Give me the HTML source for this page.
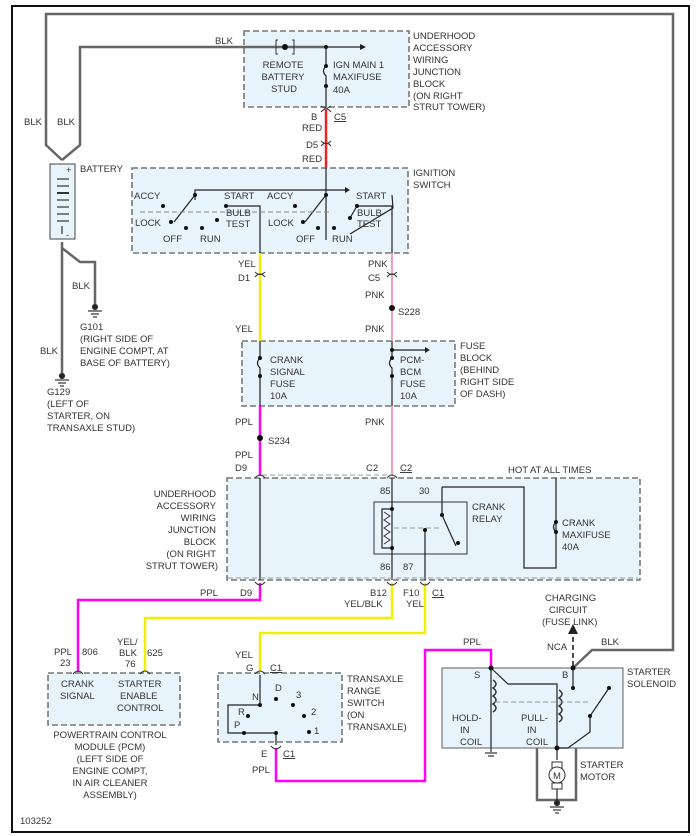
<!DOCTYPE html>
<html><head><meta charset="utf-8"><style>
html,body{margin:0;padding:0;background:#fff}
svg{display:block}
text{font-family:"Liberation Sans",sans-serif;font-size:9.5px;fill:#333}
.bx{fill:#e8f4fc;stroke:#777;stroke-width:1.6;stroke-dasharray:6,3}
.k{stroke:#222;stroke-width:1.2;fill:none}
.g{stroke:#666;stroke-width:2.5;fill:none}
.y{stroke:#f0f000;stroke-width:2.5;fill:none}
.p{stroke:#f4a0b8;stroke-width:2;fill:none}
.m{stroke:#ff00ff;stroke-width:2.5;fill:none}
.r{stroke:#ee2222;stroke-width:2.5;fill:none}
</style></head><body>
<svg width="700" height="836" viewBox="0 0 700 836">
<rect x="12" y="6" width="677" height="826" fill="#fff" stroke="#111" stroke-width="2"/>
<rect class="bx" x="244" y="31" width="165" height="76"/>
<rect class="bx" x="132" y="168" width="276" height="85"/>
<rect class="bx" x="242" y="341" width="213" height="65"/>
<rect class="bx" x="227" y="478" width="413" height="102"/>
<rect class="bx" x="48" y="673" width="132" height="52"/>
<rect class="bx" x="218" y="673" width="124" height="69"/>
<rect x="442" y="668" width="181" height="80" fill="#e8f4fc" stroke="#777" stroke-width="1.2"/>
<path class="g" d="M62,160 L46,145 L46,14 L673,14 L673,650 L592,650 L573,668"/>
<path class="g" d="M62,160 L80,145 L80,47 L326,47"/>
<path class="g" d="M62,242 L62,375"/>
<path class="g" d="M62,248 L80,262 L95,262 L95,305"/>
<path class="g" d="M537,748 L537,800 L576,800 L576,748"/>
<rect x="50" y="164" width="25" height="75" fill="#e8f4fc" stroke="#444"/>
<g stroke="#333" stroke-width="1.2"><line x1="57" y1="179" x2="69" y2="179"/><line x1="57" y1="186" x2="69" y2="186"/><line x1="57" y1="193" x2="69" y2="193" stroke-width="2"/><line x1="57" y1="200" x2="69" y2="200"/><line x1="57" y1="207" x2="69" y2="207"/><line x1="57" y1="214" x2="69" y2="214"/><line x1="57" y1="221" x2="69" y2="221"/><line x1="62" y1="226" x2="62" y2="234"/></g>
<text x="66" y="173" font-size="8">+</text><text x="66" y="238" font-size="7">-</text>
<g stroke="#333" stroke-width="1.2"><circle cx="95" cy="307" r="2.5" fill="#222"/><line x1="88" y1="311" x2="102" y2="311"/><line x1="91" y1="314" x2="99" y2="314"/><line x1="93" y1="317" x2="97" y2="317"/>
<circle cx="62" cy="376" r="2.5" fill="#222"/><line x1="55" y1="380" x2="69" y2="380"/><line x1="58" y1="383" x2="66" y2="383"/><line x1="60" y1="386" x2="64" y2="386"/>
<line x1="491" y1="748" x2="491" y2="752"/><line x1="485" y1="753" x2="497" y2="753"/><line x1="488" y1="756" x2="494" y2="756"/>
<circle cx="557" cy="803" r="2.5" fill="#222"/><line x1="550" y1="807" x2="564" y2="807"/><line x1="553" y1="810" x2="561" y2="810"/><line x1="555" y1="813" x2="559" y2="813"/></g>
<circle cx="285" cy="47" r="3" fill="#111"/><path d="M278,40h-2v14h2 M292,40h2v14h-2" stroke="#333" fill="none"/>
<path class="k" d="M326,47 L360,47"/><path d="M360,44 L366,47 L360,50Z" fill="#222"/>
<circle cx="326" cy="47" r="2" fill="#111"/>
<path class="k" d="M326,47 V66 q-5,5 0,10 V108"/><circle cx="326" cy="66" r="2" fill="#111"/><circle cx="326" cy="86" r="2" fill="#111"/>
<path class="r" d="M326,110 V168"/>
<path class="k" d="M326,168 V240 M195,200 V190 H326 M326,190 H345"/><path d="M345,187 L350,190 L345,193Z" fill="#222"/>
<path class="k" d="M195,195 L174,222 M326,195 L305,222 M357,206 L350,218 M392,195 L393,208 L350,234 M226,206 H260 V253 M357,206 H392 V253"/>
<path d="M140,212 H330" stroke="#888" stroke-dasharray="5,3"/>
<g fill="#111"><circle cx="195" cy="195" r="2"/><circle cx="163" cy="206" r="2"/><circle cx="171" cy="222" r="2"/><circle cx="186" cy="228" r="2"/><circle cx="202" cy="228" r="2"/><circle cx="217" cy="220" r="2"/><circle cx="226" cy="206" r="2"/>
<circle cx="326" cy="195" r="2"/><circle cx="295" cy="206" r="2"/><circle cx="303" cy="222" r="2"/><circle cx="318" cy="228" r="2"/><circle cx="334" cy="228" r="2"/><circle cx="350" cy="218" r="2"/><circle cx="357" cy="206" r="2"/></g>
<path class="y" d="M260,253 V341"/><path class="k" d="M260,341 V358 q-5,5 0,10 V406"/><circle cx="260" cy="358" r="2" fill="#111"/><circle cx="260" cy="376" r="2" fill="#111"/>
<path class="m" d="M260,406 V476"/><circle cx="260" cy="438" r="3" fill="#111"/>
<path class="k" d="M260,478 V580"/><path class="m" d="M260,583 V600 H78 V672"/>
<path class="p" d="M392,253 V341"/><circle cx="392" cy="308" r="3" fill="#111"/>
<path class="k" d="M392,341 V358 q-5,5 0,10 V406 M392,350 H425"/><path d="M425,347 L430,350 L425,353Z" fill="#222"/><circle cx="392" cy="350" r="2" fill="#111"/><circle cx="392" cy="358" r="2" fill="#111"/><circle cx="392" cy="376" r="2" fill="#111"/>
<path class="p" d="M392,406 V476"/>
<path d="M262,475 H390" stroke="#999" stroke-dasharray="5,3"/>
<rect x="374" y="502" width="93" height="52" fill="none" stroke="#333"/>
<path class="k" d="M392,478 V580 M392,509 H382 V548 H392 M425,530 V580 M442,487 H524 V568 H556 V478 M442,487 V515 L456,546"/>
<path d="M384,512 l6,4 -6,4 6,4 -6,4 6,4 -6,4 6,4 -6,4" stroke="#333" fill="none"/>
<path d="M394,528 H440" stroke="#999" stroke-dasharray="5,3"/>
<path class="k" d="M556,522 q-5,5 0,10"/>
<g fill="#111"><circle cx="392" cy="509" r="2"/><circle cx="392" cy="548" r="2"/><circle cx="425" cy="530" r="2"/><circle cx="442" cy="515" r="2"/><circle cx="458" cy="543" r="2"/><circle cx="556" cy="522" r="2"/><circle cx="556" cy="532" r="2"/></g>
<path d="M228,578 H638" stroke="#999" stroke-dasharray="5,3"/>
<path class="y" d="M392,583 V618 H145 V672"/>
<path class="y" d="M425,583 V633 H260 V672"/>
<path class="m" d="M276,748 V781 H425 V650 H491 V668"/>
<path class="k" d="M260,675 V705 H228 V733 H276 V745"/>
<g fill="#111"><circle cx="260" cy="705" r="2"/><circle cx="248" cy="716" r="2"/><circle cx="244" cy="733" r="2"/><circle cx="276" cy="733" r="2"/><circle cx="276" cy="699" r="2"/><circle cx="293" cy="705" r="2"/><circle cx="304" cy="716" r="2"/><circle cx="309" cy="732" r="2"/></g>
<path class="k" d="M491,668 V748 M491,668 L508,684 H557 V748 M573,668 V688 M609,688 L590,716 V732 L568,748 L557,748 V760"/>
<path d="M493,680 q6,4 0,8 q6,4 0,8 q6,4 0,8 q6,4 0,8" stroke="#333" fill="none" stroke-width="1.5"/>
<path d="M559,690 q6,4 0,8 q6,4 0,8 q6,4 0,8 q6,4 0,8" stroke="#333" fill="none" stroke-width="1.5"/>
<path d="M495,702 H590" stroke="#999" stroke-dasharray="5,3"/>
<g fill="#111"><circle cx="491" cy="668" r="2.5"/><circle cx="573" cy="668" r="2.5"/><circle cx="573" cy="688" r="2"/><circle cx="609" cy="688" r="2"/><circle cx="590" cy="716" r="2"/><circle cx="557" cy="748" r="2.5"/></g>
<path d="M573,666 V632" stroke="#222" stroke-width="1.6" stroke-dasharray="5,3"/><path d="M568,634 L573,624 L578,634Z" fill="#222"/>
<rect x="552" y="762" width="10" height="6" fill="#fff" stroke="#333"/><circle cx="557" cy="775" r="8" fill="#fff" stroke="#333"/><rect x="552" y="783" width="10" height="6" fill="#fff" stroke="#333"/><text x="553" y="779" font-size="8">M</text>
<path class="k" d="M557,789 V800"/>
<g stroke="#333" stroke-width="1" fill="none">
<path d="M321,112 q5,-6 10,0 M321,106 l5,3 5,-3"/>
<path d="M321,146 q5,-6 10,0 M321,141 q5,5 10,0"/>
<path d="M255,277 q5,-6 10,0 M255,272 q5,5 10,0"/>
<path d="M387,277 q5,-6 10,0 M387,272 q5,5 10,0"/>
<path d="M255,478 q5,-6 10,0 M387,478 q5,-6 10,0"/>
<path d="M255,582 q5,6 10,0 M387,582 q5,6 10,0 M420,582 q5,6 10,0"/>
<path d="M73,674 q5,-6 10,0 M140,674 q5,-6 10,0 M255,674 q5,-6 10,0 M271,746 q5,6 10,0"/>
</g>
<text x="215" y="44">BLK</text>
<g text-anchor="middle"><text x="283" y="68">REMOTE</text><text x="283" y="80">BATTERY</text><text x="284" y="92">STUD</text></g>
<text x="333" y="68">IGN MAIN 1</text><text x="333" y="80">MAXIFUSE</text><text x="333" y="93">40A</text>
<text x="413" y="39">UNDERHOOD</text><text x="413" y="51">ACCESSORY</text><text x="413" y="63">WIRING</text><text x="413" y="75">JUNCTION</text><text x="413" y="87">BLOCK</text><text x="413" y="99">(ON RIGHT</text><text x="413" y="110">STRUT TOWER)</text>
<text x="311" y="120">B</text><text x="334" y="120" text-decoration="underline">C5</text><text x="302" y="131">RED</text><text x="306" y="148">D5</text><text x="302" y="162">RED</text>
<text x="24" y="125">BLK</text><text x="57" y="125">BLK</text>
<text x="80" y="172">BATTERY</text>
<text x="413" y="176">IGNITION</text><text x="413" y="188">SWITCH</text>
<text x="134" y="199">ACCY</text><text x="224" y="199">START</text><text x="267" y="199">ACCY</text><text x="356" y="199">START</text>
<text x="135" y="226">LOCK</text><text x="226" y="216">BULB</text><text x="226" y="227">TEST</text><text x="268" y="226">LOCK</text><text x="357" y="216">BULB</text><text x="357" y="227">TEST</text>
<text x="163" y="242">OFF</text><text x="200" y="242">RUN</text><text x="296" y="242">OFF</text><text x="332" y="242">RUN</text>
<text x="238" y="267">YEL</text><text x="368" y="267">PNK</text>
<text x="238" y="281">D1</text><text x="368" y="281">C5</text>
<text x="365" y="298">PNK</text><text x="398" y="315">S228</text>
<text x="72" y="289">BLK</text><text x="80" y="330">G101</text><text x="80" y="342">(RIGHT SIDE OF</text><text x="80" y="354">ENGINE COMPT, AT</text><text x="80" y="366">BASE OF BATTERY)</text>
<text x="40" y="354">BLK</text><text x="47" y="395">G129</text><text x="47" y="407">(LEFT OF</text><text x="47" y="419">STARTER, ON</text><text x="47" y="431">TRANSAXLE STUD)</text>
<text x="235" y="332">YEL</text><text x="365" y="332">PNK</text>
<text x="270" y="363">CRANK</text><text x="270" y="375">SIGNAL</text><text x="270" y="387">FUSE</text><text x="270" y="399">10A</text>
<text x="400" y="363">PCM-</text><text x="400" y="375">BCM</text><text x="400" y="387">FUSE</text><text x="400" y="399">10A</text>
<text x="460" y="349">FUSE</text><text x="460" y="361">BLOCK</text><text x="460" y="373">(BEHIND</text><text x="460" y="385">RIGHT SIDE</text><text x="460" y="397">OF DASH)</text>
<text x="235" y="425">PPL</text><text x="365" y="425">PNK</text><text x="268" y="444">S234</text>
<text x="235" y="458">PPL</text><text x="235" y="471">D9</text><text x="366" y="471">C2</text><text x="400" y="471" text-decoration="underline">C2</text>
<text x="508" y="473">HOT AT ALL TIMES</text>
<text x="380" y="494">85</text><text x="419" y="494">30</text>
<text x="472" y="510">CRANK</text><text x="472" y="522">RELAY</text>
<text x="562" y="526">CRANK</text><text x="562" y="538">MAXIFUSE</text><text x="562" y="550">40A</text>
<text x="380" y="570">86</text><text x="403" y="570">87</text>
<g text-anchor="end"><text x="216" y="497">UNDERHOOD</text><text x="216" y="509">ACCESSORY</text><text x="216" y="521">WIRING</text><text x="216" y="533">JUNCTION</text><text x="216" y="545">BLOCK</text><text x="216" y="557">(ON RIGHT</text><text x="218" y="569">STRUT TOWER)</text></g>
<text x="200" y="596">PPL</text><text x="240" y="596">D9</text><text x="370" y="596">B12</text><text x="344" y="607">YEL/BLK</text><text x="403" y="596">F10</text><text x="406" y="607">YEL</text><text x="432" y="596" text-decoration="underline">C1</text>
<text x="545" y="601">CHARGING</text><text x="549" y="613">CIRCUIT</text><text x="542" y="625">(FUSE LINK)</text>
<text x="463" y="645">PPL</text><text x="547" y="650">NCA</text><text x="601" y="645">BLK</text>
<text x="54" y="655">PPL</text><text x="82" y="655">806</text><text x="60" y="666">23</text>
<text x="117" y="645">YEL/</text><text x="119" y="656">BLK</text><text x="147" y="656">625</text><text x="125" y="667">76</text>
<text x="235" y="658">YEL</text><text x="246" y="671">G</text><text x="270" y="671" text-decoration="underline">C1</text>
<text x="61" y="687">CRANK</text><text x="60" y="699">SIGNAL</text><text x="118" y="687">STARTER</text><text x="120" y="699">ENABLE</text><text x="117" y="711">CONTROL</text>
<text x="347" y="682">TRANSAXLE</text><text x="347" y="694">RANGE</text><text x="347" y="706">SWITCH</text><text x="347" y="718">(ON</text><text x="347" y="730">TRANSAXLE)</text>
<text x="275" y="691">D</text><text x="296" y="698">3</text><text x="252" y="700">N</text><text x="311" y="715">2</text><text x="238" y="715">R</text><text x="234" y="728">P</text><text x="314" y="734">1</text>
<text x="474" y="678">S</text><text x="562" y="678">B</text>
<text x="627" y="675">STARTER</text><text x="627" y="687">SOLENOID</text>
<text x="452" y="721">HOLD-</text><text x="460" y="733">IN</text><text x="460" y="745">COIL</text>
<text x="521" y="721">PULL-</text><text x="527" y="733">IN</text><text x="526" y="745">COIL</text>
<text x="261" y="757">E</text><text x="283" y="757" text-decoration="underline">C1</text><text x="252" y="773">PPL</text>
<text x="580" y="768">STARTER</text><text x="580" y="780">MOTOR</text>
<g text-anchor="middle"><text x="110" y="738">POWERTRAIN CONTROL</text><text x="110" y="750">MODULE (PCM)</text><text x="110" y="762">(LEFT SIDE OF</text><text x="110" y="774">ENGINE COMPT,</text><text x="110" y="786">IN AIR CLEANER</text><text x="110" y="798">ASSEMBLY)</text></g>
<text x="20" y="824">103252</text>
</svg>
</body></html>
